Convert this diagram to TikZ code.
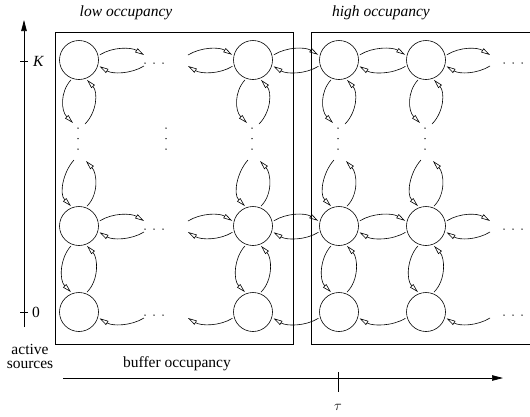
\documentclass[tikz,border=0pt]{standalone}
\usepackage{fontspec}
\setmainfont{Liberation Serif}
\usetikzlibrary{arrows.meta}
\begin{document}
\begin{tikzpicture}[x=1pt,y=-1pt,
  state/.style={circle,draw,line width=0.6pt,minimum size=39pt,inner sep=0pt,outer sep=2pt},
  arr/.style={line width=0.6pt,-{Triangle[open,length=9pt,width=4.6pt]}},
  frame/.style={draw,line width=0.8pt},
  axis/.style={line width=0.7pt,-{Triangle[length=11pt,width=5.5pt]}},
  tick/.style={line width=0.7pt},
  lbl/.style={font=\fontsize{15.5}{14}\selectfont,inner sep=0pt},
  pt/.style={circle,fill,inner sep=0pt,minimum size=1.5pt}]
\useasboundingbox (0,0) rectangle (530,416);

% arrows between horizontally adjacent states / dot groups
\newcommand\hup[2]{\draw[arr] (#1) .. controls +(13,-8) and +(-13,-8) .. (#2);}
\newcommand\hdn[2]{\draw[arr] (#1) .. controls +(-13,8) and +(13,8) .. (#2);}
% arrows between vertically adjacent states / dot groups
\newcommand\vdn[2]{\draw[arr] (#1) .. controls +(-11,12) and +(-12,-12) .. (#2);}
\newcommand\vup[2]{\draw[arr] (#1) .. controls +(12,-12) and +(11,12) .. (#2);}

% the two regions
\draw[frame] (55,32) rectangle (293,344);
\draw[frame] (531,32) -- (311,32) -- (311,344) -- (531,344);
\node[lbl,font=\fontsize{15.5}{14}\selectfont\itshape] (low) at (126,13) {low occupancy};
\node[lbl,font=\fontsize{15.5}{14}\selectfont\itshape] (high) at (381,13) {high occupancy};

% states: rows K, middle, 0; four columns
\foreach \r/\y in {K/60,M/226,Z/312}{
  \foreach \c/\x in {1/79,2/253,3/339,4/426}{
    \node[state] (s\r\c) at (\x,\y) {};
  }
  % horizontal dot groups
  \foreach \dx in {145,154,163}{\node[pt] at (\dx,\y+3) {};}
  \foreach \dx in {504,513,522}{\node[pt] at (\dx,\y+3) {};}
  \coordinate (l\r u) at (144,\y-5);
  \coordinate (l\r d) at (144,\y+6);
  \coordinate (m\r u) at (188,\y-5);
  \coordinate (m\r d) at (188,\y+6);
  \coordinate (e\r u) at (490,\y-5);
  \coordinate (e\r d) at (490,\y+6);
}

% vertical dot groups
\foreach \c/\x in {1/78,2/252,3/338,4/425}{
  \foreach \dy in {128,138.5,149}{\node[pt] at (\x,\dy) {};}
  \coordinate (t\c l) at (\x-5,123);
  \coordinate (t\c r) at (\x+7,124);
  \coordinate (b\c l) at (\x-4,160);
  \coordinate (b\c r) at (\x+8,161);
}
\foreach \dy in {128,138.5,149}{\node[pt] at (166,\dy) {};}

% horizontal transitions, rows K and middle
\foreach \r in {K,M}{
  \hup{s\r1.14}{l\r u}   \hdn{l\r d}{s\r1.-17}
  \hup{m\r u}{s\r2.166}  \hdn{s\r2.197}{m\r d}
  \hup{s\r2.14}{s\r3.166} \hdn{s\r3.197}{s\r2.-17}
  \hup{s\r3.14}{s\r4.166} \hdn{s\r4.197}{s\r3.-17}
  \hup{s\r4.14}{e\r u}   \hdn{e\r d}{s\r4.-17}
}
% horizontal transitions, row 0
\hdn{lZd}{sZ1.-17}
\hdn{sZ2.197}{mZd}
\hdn{sZ3.197}{sZ2.-17}
\hdn{sZ4.197}{sZ3.-17}
\hdn{eZd}{sZ4.-17}

% vertical transitions
\foreach \c in {1,2,3,4}{
  \vdn{sK\c.-112}{t\c l}  \vup{t\c r}{sK\c.-68}
  \vdn{b\c l}{sM\c.112}   \vup{sM\c.68}{b\c r}
  \vdn{sM\c.-112}{sZ\c.112} \vup{sZ\c.68}{sM\c.-68}
}

% axes
\coordinate (ya0) at (24,327);
\coordinate (ya1) at (24,20);
\draw[axis] (ya0) -- (ya1);
\coordinate (kt0) at (20,61);  \coordinate (kt1) at (28,61);
\coordinate (zt0) at (20,312); \coordinate (zt1) at (28,312);
\draw[tick] (kt0) -- (kt1);
\draw[tick] (zt0) -- (zt1);
\node[lbl,font=\fontsize{15.5}{14}\selectfont\itshape,anchor=west] (klab) at (33,61) {K};
\node[lbl,anchor=west] (zlab) at (32,312) {0};
\node[lbl,align=center] (src) at (30,356) {active\\sources};

\coordinate (xa0) at (63,378);
\coordinate (xa1) at (503,378);
\draw[axis] (xa0) -- (xa1);
\coordinate (tt0) at (338,372); \coordinate (tt1) at (338,392);
\draw[tick] (tt0) -- (tt1);
\node[lbl] (buf) at (177,364) {buffer occupancy};
\node[lbl] (tau) at (338,407) {$\tau$};
\end{tikzpicture}
\end{document}
